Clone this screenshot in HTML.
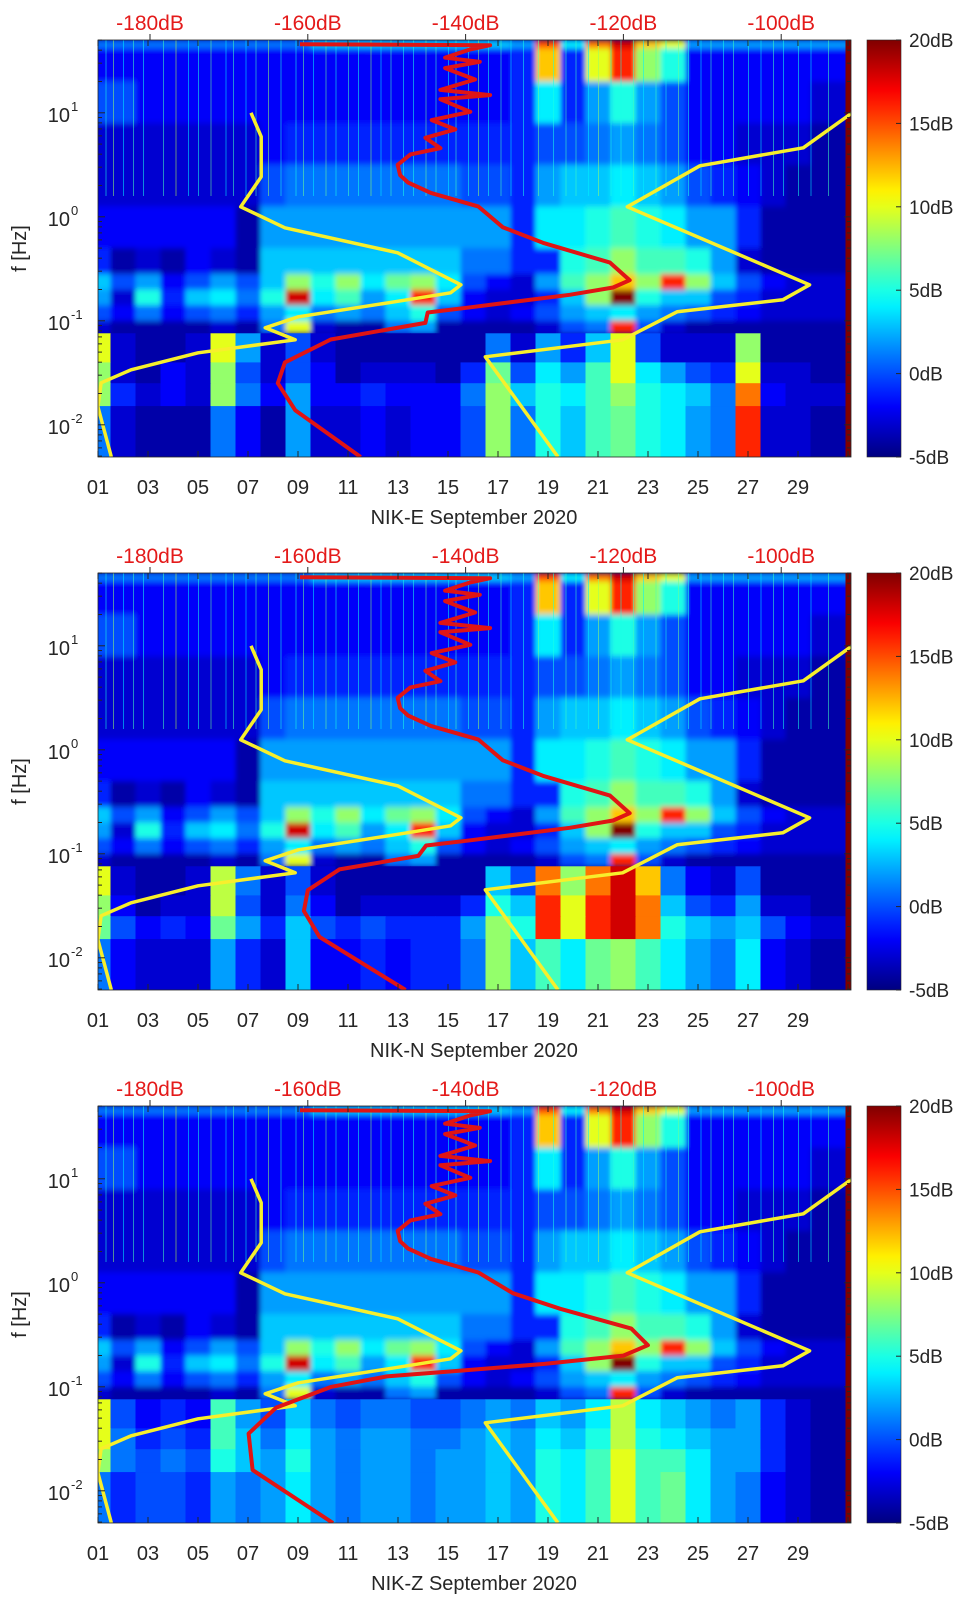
<!DOCTYPE html>
<html><head><meta charset="utf-8"><style>
html,body{margin:0;padding:0;background:#fff;}
svg{display:block;font-family:"Liberation Sans",sans-serif;}
</style></head><body>
<svg id="fig" width="962" height="1599" viewBox="0 0 962 1599" xmlns="http://www.w3.org/2000/svg"></svg>
<script>
// ---- data ----
const panelNames = ["NIK-E","NIK-N","NIK-Z"];
const dayTickLabels = ["01","03","05","07","09","11","13","15","17","19","21","23","25","27","29"];
const dbTickValues = [-180,-160,-140,-120,-100];
const cbarTickValues = [-5,0,5,10,15,20];
const bandEdges = [1.7,1.62,1.3,0.9,0.5,0.1,-0.3,-0.55,-0.7,-0.85,-1.0,-1.12,-1.4,-1.6,-1.82,-2.31];
const upperBands = [
 [1,1,1,1,1,1,1,1,1,3,3,3,3,3,3,3,3,2,15,4,14,18,12,10,2,2,2,2,2,2],
 [-2,-2,-2,-2,-2,-2,-2,-2,-2,-2,-2,-2,-2,-2,-2,-2,-2,-1,12,-1,10,16,8,5,-2,-2,-2,-2,-2,-2],
 [0,0,-2,-2,-2,-2,-2,-2,-2,-2,-2,-2,-2,-2,-2,-2,-2,-1,4,-1,2,5,2,0,-2,-2,-2,-2,-2,-3],
 [-3,-3,-3,-3,-3,-3,-3,-2,-1,-1,-1,-1,-1,-1,-1,-1,-1,-1,0,0,1,2,1,0,-2,-2,-3,-3,-3,-4],
 [-3,-3,-3,-3,-3,-3,-3,0,1,1,1,1,1,1,1,0,0,-1,2,3,3,4,3,2,0,-1,-2,-3,-4,-4],
 [-2,-2,-2,-2,-2,-2,-4,2,2,2,2,2,2,2,2,2,2,-1,4,4,5,6,5,4,2,2,-1,-4,-4,-4],
 [-1,-4,-3,-4,-2,-3,-4,3,3,3,3,3,3,3,3,1,1,-1,-1,5,6,8,6,6,5,2,-3,-4,-4,-4],
 [3,0,2,-2,0,2,0,3,8,5,8,4,7,8,4,0,-2,-3,2,6,8,12,8,16,8,3,0,-2,-3,-3],
 [2,-3,5,-1,3,4,1,5,18,4,6,2,4,16,3,-2,-3,-3,-1,3,8,20,5,3,3,0,-1,-3,-3,-3],
 [0,-2,1,-2,0,1,-1,2,4,1,2,1,3,5,0,-2,-3,-2,0,2,3,4,2,1,0,-1,-2,-3,-3,-3],
 [-3,-4,-4,-4,-4,-3,-4,1,10,-3,-4,-4,1,2,-4,-4,-4,-4,-3,0,1,16,0,-3,-4,-4,-4,-4,-4,-4]
];
const lowBandsE = [
 [10,-3,-4,-4,-3,10,2,-3,0,-3,-4,-4,-4,-4,-4,-4,1,-3,2,-1,3,10,0,-3,-3,-3,8,-4,-4,-4],
 [8,-3,-4,-2,-3,8,0,-3,0,-2,-4,-3,-3,-3,-4,-1,7,0,4,2,6,10,4,2,0,-1,10,-3,-3,-4],
 [8,-1,-3,-2,-3,8,1,-2,2,-2,-2,-1,-2,-2,-2,1,8,3,5,4,6,8,5,4,3,1,14,-2,-3,-3],
 [1,-3,-4,-4,-4,1,-2,-4,2,-3,-3,-2,-3,-2,-2,0,8,1,5,3,6,7,5,4,2,1,16,-3,-3,-4]
];
const lowBandsN = [
 [10,-3,-4,-4,-3,9,1,-3,0,-3,-4,-4,-4,-4,-4,-4,3,0,14,8,14,18,12,1,-2,-3,0,-4,-4,-4],
 [8,-2,-4,-3,-3,9,0,-3,1,-2,-4,-3,-3,-3,-3,-1,5,3,16,10,16,18,14,3,0,-1,2,-3,-3,-4],
 [7,0,-2,-1,-2,7,2,-1,3,0,-1,0,-1,-1,-1,2,8,5,16,10,16,18,14,5,3,2,3,0,-2,-3],
 [1,-2,-3,-3,-3,2,-1,-3,3,-2,-2,-1,-2,-1,-1,1,8,3,6,4,7,8,6,4,2,1,4,-2,-3,-4]
];
const lowBandsZ = [
 [10,0,-2,-1,-2,6,2,0,3,1,0,1,1,0,0,1,2,1,3,2,4,9,4,3,2,1,2,-1,-3,-4],
 [10,1,-1,0,-1,6,3,1,4,2,1,2,2,1,1,2,3,2,4,3,5,9,5,4,3,2,2,-1,-3,-4],
 [8,1,0,1,0,5,3,2,5,2,1,2,2,1,2,2,3,2,5,4,6,10,6,6,4,2,2,-1,-3,-4],
 [1,-1,0,0,-1,2,1,2,4,2,1,2,2,1,2,2,3,2,5,4,6,10,6,7,4,2,1,-2,-3,-4]
];
const streakDays = [1.3,1.6,2.0,2.4,2.8,3.6,4.1,4.6,5.0,5.5,6.1,6.4,6.9,7.3,7.8,8.3,8.9,9.2,9.6,10.1,10.5,11.0,11.4,11.9,12.3,12.7,13.2,13.6,14.1,14.5,15.0,15.3,15.8,16.2,16.6,17.1,17.5,18.0,18.6,19.2,19.7,20.1,20.6,21.0,21.5,21.9,22.4,22.8,23.3,23.7,24.2,24.6,25.1,25.5,26.0,26.4,27.0,27.5,28.0,28.4,29.0,29.5,30.2];
const streakVals = [5,8,4,6,5,6,9,4,5,7,4,6,4,6,8,5,5,7,4,7,5,6,5,8,4,6,5,5,7,6,4,6,5,8,5,6,4,5,7,5,6,6,4,8,5,5,6,4,6,5,7,5,4,6,5,6,5,4,6,5,5,4,6];
const nlnmLogF = [1.0,0.77,0.385,0.096,-0.106,-0.346,-0.654,-0.731,-0.827,-0.962,-1.067,-1.183,-1.308,-1.471,-1.596,-1.827,-2.308];
const nlnmDB = [-167.2,-165.9,-165.9,-168.5,-162.9,-148.6,-140.6,-141.9,-149.8,-161.2,-165.4,-161.6,-173.9,-182.4,-186.2,-186.6,-184.9];
const nhnmLogF = [1.0,0.663,0.49,0.096,-0.654,-0.798,-0.913,-1.183,-1.346,-2.308];
const nhnmDB = [-91.0,-97.2,-110.3,-119.5,-96.4,-99.8,-113.2,-120.1,-137.5,-128.3];
const redUpLogF = [1.66,1.65,1.61,1.53,1.49,1.43,1.32,1.22,1.17,1.13,1.01,0.93,0.84,0.76,0.66,0.60,0.50,0.40,0.33,0.23,0.10];
const redUpDB = [-161.0,-136.9,-139.4,-142.6,-138.2,-142.6,-138.8,-143.2,-136.9,-143.2,-139.4,-144.3,-141.3,-145.1,-143.2,-147.0,-148.6,-148.3,-147.3,-144.4,-138.4];
const redLowELogF = [-0.10,-0.25,-0.44,-0.61,-0.68,-0.75,-0.87,-0.92,-1.02,-1.18,-1.40,-1.60,-1.86,-2.31];
const redLowEDB = [-135.3,-130.2,-121.7,-119.2,-121.3,-126.8,-139.4,-144.8,-145.1,-157.1,-162.9,-163.8,-161.6,-153.3];
const redLowNLogF = [-0.10,-0.25,-0.44,-0.61,-0.68,-0.75,-0.87,-0.92,-1.02,-1.15,-1.35,-1.55,-1.80,-2.31];
const redLowNDB = [-135.3,-130.2,-121.7,-119.2,-121.3,-126.8,-139.4,-145.0,-146.0,-156.0,-160.0,-160.5,-158.5,-147.6];
const redLowZLogF = [-0.10,-0.25,-0.44,-0.60,-0.70,-0.78,-0.84,-0.90,-1.00,-1.20,-1.45,-1.80,-2.31];
const redLowZDB = [-134.0,-128.0,-119.0,-116.9,-120.0,-130.0,-140.0,-150.0,-157.0,-164.0,-167.5,-167.0,-156.8];

// ---- layout ----
const NS="http://www.w3.org/2000/svg";
const svg=document.getElementById('fig');
const X0=98, X1=851, PH=417, tops=[40,573,1106];
const xDay=d=>X0+(d-1)*25;
const xDB=v=>150+(v+180)*7.89;
const yLog=(top,l)=>top+(1.70-l)*104;
const cbX=867, cbW=34;
function jet(v){let t=(v+5)/25;t=Math.max(0,Math.min(1,t));
 const f=x=>Math.max(0,Math.min(1,x));
 const r=f(1.5-Math.abs(4*t-3)),g=f(1.5-Math.abs(4*t-2)),b=f(1.5-Math.abs(4*t-1));
 return `rgb(${Math.round(r*255)},${Math.round(g*255)},${Math.round(b*255)})`;}
function el(tag,attrs,parent){const e=document.createElementNS(NS,tag);for(const k in attrs)e.setAttribute(k,attrs[k]);(parent||svg).appendChild(e);return e;}
function txt(s,attrs,parent){const e=el('text',attrs,parent);e.textContent=s;return e;}

const defs=el('defs',{});
const grad=el('linearGradient',{id:'cbg',x1:0,y1:1,x2:0,y2:0},defs);
for(let i=0;i<=25;i++){el('stop',{offset:(i/25),'stop-color':jet(-5+i)},grad);}
const blur=el('filter',{id:'soft',x:'-2%',y:'-2%',width:'104%',height:'104%'},defs);
el('feGaussianBlur',{stdDeviation:'2.5 3'},blur);

const lowSets=[lowBandsE,lowBandsN,lowBandsZ];
const redLows=[[redLowELogF,redLowEDB],[redLowNLogF,redLowNDB],[redLowZLogF,redLowZDB]];

tops.forEach((top,p)=>{
 const g=el('g',{});
 
 
 const cp=el('clipPath',{id:'clip'+p},defs);
 el('rect',{x:X0,y:top,width:X1-X0,height:PH},cp);
 const hm=el('g',{'clip-path':`url(#clip${p})`},g);
 
 
 el('rect',{x:X0,y:top,width:X1-X0,height:PH,fill:jet(-4)},hm);
 const bands=upperBands.concat(lowSets[p]);
 const soft=el('g',{filter:'url(#soft)'},hm);
 bands.forEach((row,i)=>{
  const ya=yLog(top,bandEdges[i]), yb=yLog(top,bandEdges[i+1]);
  const parent = i<11 ? soft : hm;
  row.forEach((v,j)=>{
   const d=j+1;
   let xa=xDay(d-0.5), xb=xDay(d+0.5);
   if(d===30) xb=X1+2;
   if(d===1) xa=X0-4;
   const r=el('rect',{x:xa,y:ya,width:xb-xa+0.5,height:yb-ya+0.5,fill:jet(v)},parent);
   
   
  });
 });
 streakDays.forEach((d,k)=>{
  const v=streakVals[k%streakVals.length];
  const ln=el('rect',{x:xDay(d),y:top,width:1,height:yLog(top,0.2)-top,fill:jet(v),opacity:0.55},hm);
  
  
 });
 const edge=el('rect',{x:xDay(30.9),y:top,width:X1-xDay(30.9),height:PH,fill:jet(20)},hm);
 
 
 const path=(lf,db)=>lf.map((l,i)=>(i?'L':'M')+xDB(db[i]).toFixed(1)+','+yLog(top,l).toFixed(1)).join(' ');
 const lo=el('path',{d:path(nlnmLogF,nlnmDB),fill:'none',stroke:'#f7ef2c','stroke-width':3.5,'stroke-linejoin':'round'},hm);
 
 
 const hi=el('path',{d:path(nhnmLogF,nhnmDB),fill:'none',stroke:'#f7ef2c','stroke-width':3.5,'stroke-linejoin':'round'},hm);
 
 
 const rl=redUpLogF.concat(redLows[p][0]), rd=redUpDB.concat(redLows[p][1]);
 const rc=el('path',{d:path(rl,rd),fill:'none',stroke:'#e01414','stroke-width':4,'stroke-linejoin':'round'},hm);
 
 
 el('rect',{x:X0,y:top,width:X1-X0,height:PH,fill:'none',stroke:'#262626','stroke-width':0.8},g);
 for(let d=1;d<=31;d+=2){const x=xDay(d);
  el('line',{x1:x,y1:top+PH,x2:x,y2:top+PH-6,stroke:'#262626'},g);
  el('line',{x1:x,y1:top,x2:x,y2:top+6,stroke:'#262626'},g);}
 dayTickLabels.forEach((s,i)=>{const t=txt(s,{x:xDay(1+2*i),y:top+PH+37,'font-size':20,'text-anchor':'middle',fill:'#262626'},g);
  });
 const xl=txt(panelNames[p]+' September 2020',{x:474,y:top+PH+67,'font-size':20,'text-anchor':'middle',fill:'#262626'},g);
 
 dbTickValues.forEach(v=>{const x=xDB(v);
  el('line',{x1:x,y1:top,x2:x,y2:top-6,stroke:'#262626'},g);
  const t=txt(v+'dB',{x:x,y:top-10,'font-size':21,'text-anchor':'middle',fill:'#e41a1a'},g);
  });
 for(let e=-3;e<=1;e++){for(let m=1;m<10;m++){const l=e+Math.log10(m);
   if(l<-2.31||l>1.70)continue;const y=yLog(top,l);const len=m===1?7:4;
   el('line',{x1:X0,y1:y,x2:X0+len,y2:y,stroke:'#262626'},g);
   el('line',{x1:X1,y1:y,x2:X1-len,y2:y,stroke:'#262626'},g);}}
 [1,0,-1,-2].forEach(e=>{const y=yLog(top,e);
  const t=txt('10',{x:70,y:y+9,'font-size':20,'text-anchor':'end',fill:'#262626'},g);
  
  txt(String(e),{x:71,y:y-2,'font-size':13,fill:'#262626'},g);});
 const yl=txt('f [Hz]',{x:0,y:0,'font-size':20,'text-anchor':'middle',fill:'#262626',transform:`translate(26,${top+PH/2}) rotate(-90)`},g);
 
 const cb=el('rect',{x:cbX,y:top,width:cbW,height:PH,fill:'url(#cbg)',stroke:'#262626','stroke-width':0.6},g);
 
 cbarTickValues.forEach(v=>{const y=top+PH-(v+5)/25*PH;
  el('line',{x1:cbX+cbW,y1:y,x2:cbX+cbW-5,y2:y,stroke:'#262626'},g);
  const t=txt(v+'dB',{x:cbX+cbW+8,y:y+7,'font-size':19,fill:'#262626'},g);
  });
});
</script>
</body></html>
